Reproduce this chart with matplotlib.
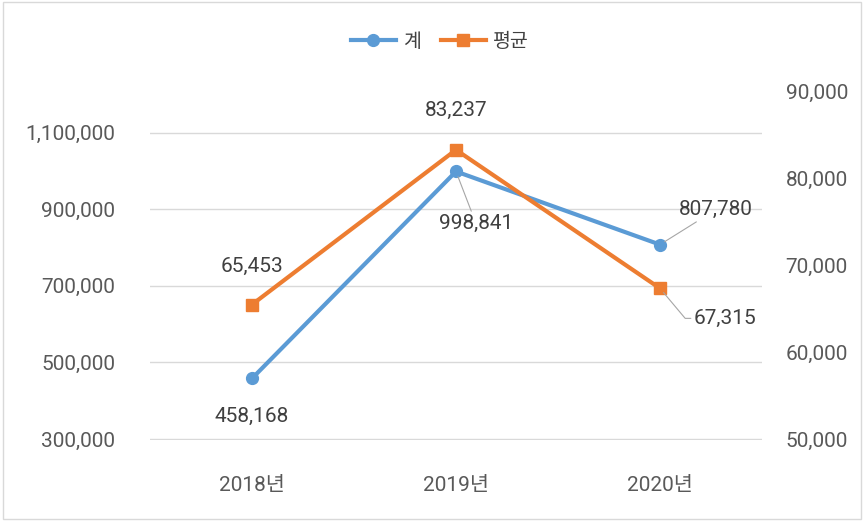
import numpy as np
from matplotlib import pyplot as plt
from matplotlib.patches import Rectangle

plt.rcParams['font.family'] = ['Roboto', 'Noto Sans CJK KR', 'DejaVu Sans']

# 데이터
years = ['2018년', '2019년', '2020년']
total = [458168, 998841, 807780]
average = [65453, 83237, 67315]

left_ticks = [300000, 500000, 700000, 900000, 1100000]
right_ticks = [50000, 60000, 70000, 80000, 90000]

blue = '#5B9BD5'
orange = '#ED7D31'
grey_text = '#595959'

fig = plt.figure(figsize=(8.64, 5.21), dpi=100)
ax = fig.add_axes([150 / 864, 81 / 521, 612 / 864, 349 / 521])
ax2 = ax.twinx()

x = np.arange(len(years))

l1, = ax.plot(x, total, color=blue, lw=3, marker='o', ms=8.5, zorder=3, label='계')
l2, = ax2.plot(x, average, color=orange, lw=3, marker='s', ms=8.5, zorder=3, label='평균')

ax.set_xlim(-0.5, 2.5)
ax.set_ylim(297400, 1209000)
ax2.set_ylim(49885, 90000)

ax.set_yticks(left_ticks)
ax.set_yticklabels([f'{v:,}' for v in left_ticks])
ax2.set_yticks(right_ticks)
ax2.set_yticklabels([f'{v:,}' for v in right_ticks])
ax.set_xticks(x)
ax.set_xticklabels(years)

ax.grid(axis='y', color='#D9D9D9', lw=1)
ax.set_axisbelow(True)
for a in (ax, ax2):
    for s in a.spines.values():
        s.set_visible(False)
fs = 15
ax.tick_params(axis='y', length=0, pad=25, labelsize=fs, labelcolor=grey_text)
ax2.tick_params(axis='y', length=0, pad=17, labelsize=fs, labelcolor=grey_text)
ax.tick_params(axis='x', length=0, pad=26, labelsize=15, labelcolor=grey_text)

# 데이터 레이블
lab = dict(fontsize=fs, color='#404040', ha='center', va='center',
           textcoords='offset pixels')
line = dict(arrowstyle='-', color='#A6A6A6', lw=0.8, shrinkA=0, shrinkB=4)

ax.annotate(f'{total[0]:,}', (x[0], total[0]), xytext=(0, -38), **lab)
ax.annotate(f'{total[1]:,}', (x[1], total[1]), xytext=(20, -52), arrowprops=line, **lab)
ax.annotate(f'{total[2]:,}', (x[2], total[2]), xytext=(56, 35), arrowprops=line, **lab)
ax2.annotate(f'{average[0]:,}', (x[0], average[0]), xytext=(0, 38), **lab)
ax2.annotate(f'{average[1]:,}', (x[1], average[1]), xytext=(0, 39), **lab)
ax2.annotate(f'{average[2]:,}', (x[2], average[2]), xytext=(65, -30),
             arrowprops=dict(arrowstyle='-', color='#A6A6A6', lw=0.8,
                             connectionstyle='angle,angleA=0,angleB=-50,rad=0',
                             shrinkA=0, shrinkB=4), **lab)

fig.legend(handles=[l1, l2], loc='center', bbox_to_anchor=(440 / 864, 1 - 42 / 521),
           ncol=2, frameon=False, fontsize=14, handlelength=2.3, columnspacing=1.0,
           handletextpad=0.4, labelcolor='#404040')

fig.add_artist(Rectangle((0.003, 0.004), 0.994, 0.993, transform=fig.transFigure,
                         fill=False, ec='#D9D9D9', lw=1))

fig.savefig('out.png', dpi=100)
